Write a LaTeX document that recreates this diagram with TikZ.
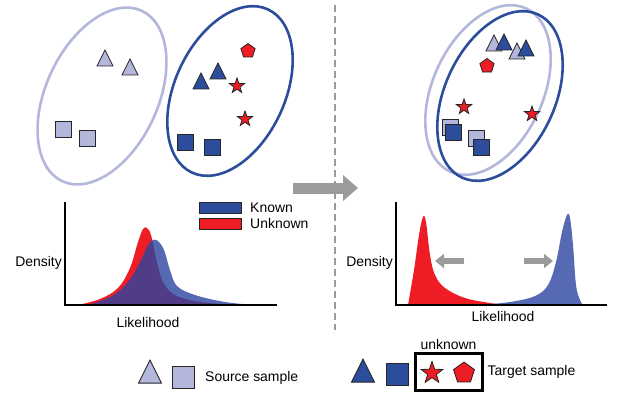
\documentclass[tikz,border=0pt]{standalone}
\usepackage{fontspec}
\setmainfont{Liberation Sans}
\usetikzlibrary{shapes.geometric,arrows.meta,positioning}
\definecolor{daSrc}{HTML}{B3B7DC}
\definecolor{daTgt}{HTML}{2C4C9C}
\definecolor{daUnk}{HTML}{EE1C25}
\definecolor{daGray}{HTML}{9B9B9B}
\definecolor{daLine}{HTML}{262626}
\definecolor{daDens}{HTML}{2A45A0}
\tikzset{
  damark/.style={draw=daLine,line width=0.8pt,inner sep=0pt,outer sep=0pt},
  srctri/.style={damark,isosceles triangle,isosceles triangle stretches,shape border rotate=90,
                 fill=daSrc,minimum width=16bp,minimum height=16bp},
  tgttri/.style={srctri,fill=daTgt},
  srcsq/.style={damark,rectangle,fill=daSrc,minimum size=16bp},
  tgtsq/.style={srcsq,fill=daTgt},
  unkstar/.style={damark,star,star points=5,star point ratio=2.5,fill=daUnk,minimum size=16bp},
  unkpent/.style={damark,regular polygon,regular polygon sides=5,fill=daUnk,minimum size=15bp},
  srcring/.style={ellipse,draw=daSrc,line width=2.6bp,minimum width=110bp,minimum height=180bp,rotate=-25},
  tgtring/.style={srcring,draw=daTgt},
  daaxis/.style={draw=black,line width=1.5bp},
  dalbl/.style={font=\fontsize{14}{16}\selectfont,inner sep=1bp},
  gaparrow/.style={draw=daGray,line width=11bp,-{Triangle[length=15bp,width=25bp]}},
  shiftarrow/.style={draw=daGray,line width=6bp,-{Triangle[length=9bp,width=14bp]}},
  dens/.style={fill=daDens,fill opacity=0.8},
}
\begin{document}
\begin{tikzpicture}[x=1bp,y=-1bp]
  \useasboundingbox (0,0) rectangle (640,399);

  % source / target clusters before adaptation
  \node[srcring,minimum width=112bp,minimum height=188bp] (lSrcRing) at (102,96) {};
  \node[tgtring] (lTgtRing) at (230,91) {};
  \node[srctri] (lsT1) at (105,61) {};
  \node[srctri] (lsT2) at (130,70) {};
  \node[srcsq] (lsQ1) at (63,129) {};
  \node[srcsq] (lsQ2) at (87,138) {};
  \node[tgttri] (ltT1) at (201,84) {};
  \node[tgttri] (ltT2) at (218,74) {};
  \node[tgtsq] (ltQ1) at (185,142) {};
  \node[tgtsq] (ltQ2) at (212,147) {};
  \node[unkpent] (luP) at (248,51) {};
  \node[unkstar] (luS1) at (237,86) {};
  \node[unkstar] (luS2) at (245,119) {};

  % after adaptation
  \node[srcring] (rSrcRing) at (488,90) {};
  \node[tgtring] (rTgtRing) at (500,96) {};
  \node[srctri] (rsT1) at (494,46) {};
  \node[tgttri] (rtT1) at (504,45) {};
  \node[srctri] (rsT2) at (517,54) {};
  \node[tgttri] (rtT2) at (526,51) {};
  \node[srcsq] (rsQ1) at (450,127) {};
  \node[tgtsq] (rtQ1) at (453,132) {};
  \node[srcsq] (rsQ2) at (476,138) {};
  \node[tgtsq] (rtQ2) at (481,147) {};
  \node[unkpent] (ruP) at (487,66) {};
  \node[unkstar] (ruS1) at (464,107) {};
  \node[unkstar] (ruS2) at (532,114) {};

  % divider and transfer arrow
  \coordinate (divTop) at (335,5);
  \coordinate (divBot) at (335,330);
  \draw[daGray,line width=2.5bp,dash pattern=on 7bp off 4bp] (divTop) -- (divBot);
  \coordinate (gapA) at (293,188);
  \coordinate (gapB) at (358,188);
  \draw[gaparrow] (gapA) -- (gapB);

  % left density plot
  \fill[daUnk] plot[smooth,tension=0.6] coordinates {(78,305) (100,299) (118,288) (130,268) (138,242) (143,229) (147,228) (151,235) (156,258) (163,282) (175,295) (200,302) (235,305)} -- cycle;
  \fill[dens] plot[smooth,tension=0.6] coordinates {(88,305) (112,296) (128,282) (140,262) (148,245) (153,240) (158,241) (164,250) (170,270) (177,286) (195,295) (225,302) (255,305)} -- cycle;
  \coordinate (lTop) at (65,202);
  \coordinate (lO) at (65,305);
  \coordinate (lEnd) at (277,305);
  \coordinate (lMid) at (65,263);
  \draw[daaxis] (lTop) -- (lO) -- (lEnd);
  \node[dalbl,left=2bp of lMid] (lDens) {Density};
  \node[dalbl] (lLik) at (148,323) {Likelihood};
  \node[damark,fill=daTgt,minimum width=42bp,minimum height=11bp] (kKnown) at (220,207.5) {};
  \node[damark,fill=daUnk,minimum width=42bp,minimum height=11bp] (kUnk) at (220,224) {};
  \node[dalbl,right=8bp of kKnown] (kKnownTxt) {Known};
  \node[dalbl,right=8bp of kUnk] (kUnkTxt) {Unknown};

  % right density plot
  \fill[daUnk] plot[smooth,tension=0.6] coordinates {(408,305) (414,270) (419,235) (423,217) (426,222) (430,255) (435,275) (445,288) (465,298) (490,303) (505,305)} -- cycle;
  \fill[dens] plot[smooth,tension=0.6] coordinates {(478,305) (510,302) (535,296) (548,285) (556,262) (562,232) (567,215) (570,218) (573,245) (576,285) (580,300) (583,305)} -- cycle;
  \coordinate (rTop) at (396,202);
  \coordinate (rO) at (396,305);
  \coordinate (rEnd) at (607,305);
  \coordinate (rMid) at (396,263);
  \draw[daaxis] (rTop) -- (rO) -- (rEnd);
  \node[dalbl,left=2bp of rMid] (rDens) {Density};
  \node[dalbl] (rLik) at (503,317) {Likelihood};
  \coordinate (shL0) at (464,261);
  \coordinate (shL1) at (435,261);
  \coordinate (shR0) at (524,261);
  \coordinate (shR1) at (553,261);
  \draw[shiftarrow] (shL0) -- (shL1);
  \draw[shiftarrow] (shR0) -- (shR1);

  % legend
  \node[srctri,minimum width=23bp,minimum height=23bp] (gsT) at (150,376) {};
  \node[srcsq,minimum size=22bp] (gsQ) at (183,377) {};
  \node[dalbl,anchor=west] (gsTxt) at (204,378) {Source sample};
  \node[tgttri,minimum width=23bp,minimum height=23bp] (gtT) at (363,375) {};
  \node[tgtsq,minimum size=22bp] (gtQ) at (397,374) {};
  \node[draw=black,line width=3bp,minimum width=67bp,minimum height=37bp] (gBox) at (448.5,371.5) {};
  \node[unkstar,minimum size=23bp] (guS) at (432,373) {};
  \node[unkpent,minimum size=22bp] (guP) at (464,373) {};
  \node[dalbl,above=1bp of gBox] (guTxt) {unknown};
  \node[dalbl,right=3bp of gBox] (gtTxt) {Target sample};
\end{tikzpicture}
\end{document}
